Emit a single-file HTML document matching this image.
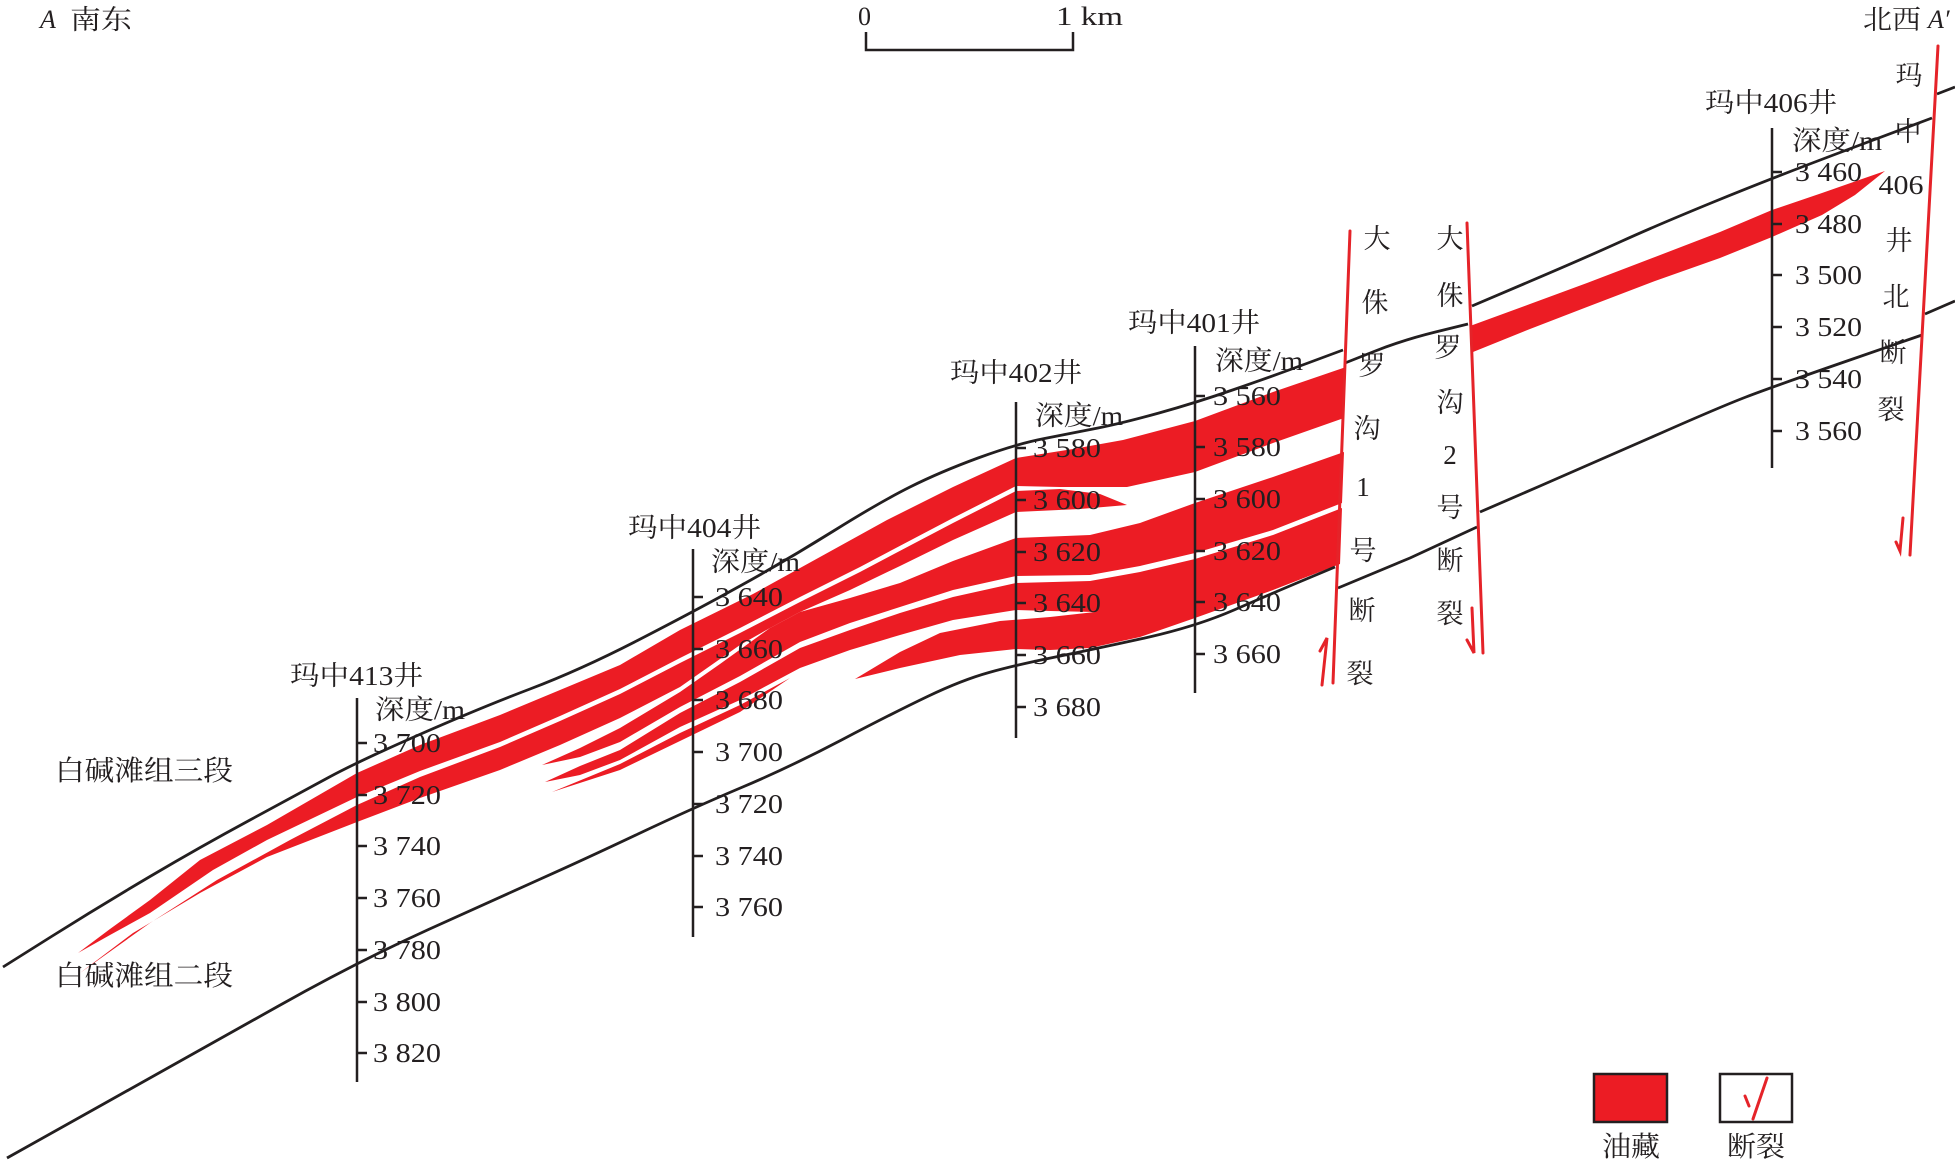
<!DOCTYPE html>
<html><head><meta charset="utf-8"><style>
html,body{margin:0;padding:0;background:#fff}
svg{display:block}
text{font-family:"Liberation Serif","Noto Serif CJK SC",serif;fill:#231f20}
.t{font-size:27px}
.n{font-size:27px}
.f{font-size:27px;text-anchor:middle}
.it{font-style:italic}
</style></head><body>
<svg width="1955" height="1163" viewBox="0 0 1955 1163" xmlns="http://www.w3.org/2000/svg">
<rect width="1955" height="1163" fill="#fff"/>
<g fill="#ec1c24" stroke="none">
<path d="M78,953 L110,929 L150,900 L200,860 L267,825 L357,773 L420,745 L500,715 L560,690 L620,665 L680,630 L753,594 L820,557 L887,520 L953,487 L1016,458 L1073,449 L1123,440 L1195,421 L1273,392 L1346,367 L1344,418 L1273,443 L1195,472 L1127,487 L1060,487 L1016,486 L953,518 L913,539 L860,567 L800,597 L740,628 L680,658 L620,689 L560,716 L500,742 L420,771 L357,797 L267,840 L213,870 L150,913 L110,935 Z"/>
<path d="M80,973 L150,923 L217,880 L290,840 L357,805 L420,777 L500,747 L560,721 L620,694 L680,663 L740,633 L800,602 L860,572 L913,544 L953,523 L1016,491 L1060,489 L1100,494 L1127,505 L1080,509 L1016,512 L953,540 L900,566 L850,590 L800,612 L770,628 L740,645 L680,687 L620,718 L560,745 L500,770 L420,798 L357,822 L267,857 L200,893 L133,933 Z"/>
<path d="M542,765 L580,748 L620,728 L680,692 L720,664 L770,628 L800,612 L850,598 L900,583 L953,561 L1016,538 L1090,535 L1140,523 L1195,503 L1273,477 L1344,452 L1342,503 L1273,530 L1195,553 L1140,566 L1090,575 L1016,576 L953,590 L900,607 L850,623 L800,642 L740,676 L680,707 L620,742 L580,757 Z"/>
<path d="M545,782 L580,766 L620,750 L680,713 L740,682 L800,648 L850,630 L900,613 L953,597 L1016,583 L1090,581 L1140,572 L1195,559 L1273,535 L1342,508 L1340,564 L1273,590 L1195,618 L1140,637 L1090,648 L1050,650 L1016,649 L960,655 L900,668 L855,679 L900,652 L940,633 L1000,621 L1050,617 L1095,612 L1050,611 L1016,610 L953,620 L900,635 L850,650 L800,668 L740,700 L680,727 L620,760 L580,775 Z"/>
<path d="M552,792 L620,764 L680,733 L740,705 L790,678 L740,712 L680,741 L620,770 Z"/>
<path d="M1470,326 L1530,304 L1587,283 L1655,257 L1720,232 L1772,210 L1822,193 L1862,179 L1885,171 L1855,195 L1822,215 L1772,237 L1720,258 L1655,281 L1587,307 L1530,329 L1473,352 Z"/>
</g>
<g fill="none" stroke="#231f20" stroke-width="2.8" stroke-linejoin="round" stroke-linecap="butt">
<path d="M3,967 L51.5,936.5 Q100,906 150,876.5 Q200,847 250,820 Q300,793 328.5,777.5 Q357,762 418.5,735 Q480,708 530,689 Q580,670 636.5,641 Q693,612 740,586 Q787,560 833.5,531 Q880,502 910,487 Q940,472 978,458 Q1016,444 1044.5,438.5 Q1073,433 1098,428 Q1123,423 1159,413 Q1195,403 1234,389.5 Q1273,376 1308,363 L1343,350"/>
<path d="M1345,363 L1374,351.5 Q1403,340 1435.5,332 L1468,324"/>
<path d="M1472,306 L1529.5,281.5 Q1587,257 1621,241.5 Q1655,226 1713.5,202 Q1772,178 1852,148 L1932,118"/>
<polyline points="1937,94 1955,87"/>
<path d="M7,1158 L103.5,1104 Q200,1050 278.5,1006 Q357,962 428.5,929.5 Q500,897 541.5,878.5 Q583,860 638,834 Q693,808 741.5,787.5 Q790,767 841.5,740 Q893,713 927.5,696.5 Q962,680 989,672.5 Q1016,665 1053,657.5 Q1090,650 1142.5,638.5 Q1195,627 1234,610 Q1273,593 1304,580 L1335,567"/>
<polyline points="1338,588 1410,558 1477,527"/>
<path d="M1480,512 L1540,486 Q1600,460 1660,433.5 Q1720,407 1746,397 Q1772,387 1847,361 L1922,335"/>
<polyline points="1925,314 1955,301"/>
</g>
<g stroke="#231f20" stroke-width="2.5" fill="none">
<line x1="357" y1="698" x2="357" y2="1082"/>
<line x1="693" y1="549" x2="693" y2="937"/>
<line x1="1016" y1="402" x2="1016" y2="738"/>
<line x1="1195" y1="346" x2="1195" y2="693"/>
<line x1="1772" y1="128" x2="1772" y2="468"/>
<path d="M357,743h10M357,795h10M357,846h10M357,898h10M357,950h10M357,1002h10M357,1053h10"/>
<path d="M693,597h10M693,649h10M693,700h10M693,752h10M693,804h10M693,856h10M693,907h10"/>
<path d="M1016,448h10M1016,500h10M1016,552h10M1016,603h10M1016,655h10M1016,707h10"/>
<path d="M1195,396h10M1195,447h10M1195,499h10M1195,551h10M1195,602h10M1195,654h10"/>
<path d="M1772,172h10M1772,224h10M1772,275h10M1772,327h10M1772,379h10M1772,431h10"/>
<path d="M866,32V50H1073V32"/>
</g>
<g stroke="#e52329" stroke-width="3" fill="none" stroke-linecap="round">
<line x1="1350" y1="231" x2="1333" y2="683"/>
<line x1="1467" y1="223" x2="1483" y2="653"/>
<line x1="1938" y1="46" x2="1910" y2="555"/>
<path d="M1322,685L1327,638L1320,651"/>
<path d="M1472,608L1474,653L1467,640"/>
<path d="M1903,518L1900,551L1896,542"/>
</g>
<!-- well 413 -->
<text class="n" x="290" y="685" textLength="133" lengthAdjust="spacingAndGlyphs">玛中413井</text>
<text class="t" x="375" y="719" textLength="90" lengthAdjust="spacingAndGlyphs">深度/m</text>
<g class="t">
<text x="373" y="752" textLength="68" lengthAdjust="spacingAndGlyphs">3 700</text>
<text x="373" y="804" textLength="68" lengthAdjust="spacingAndGlyphs">3 720</text>
<text x="373" y="855" textLength="68" lengthAdjust="spacingAndGlyphs">3 740</text>
<text x="373" y="907" textLength="68" lengthAdjust="spacingAndGlyphs">3 760</text>
<text x="373" y="959" textLength="68" lengthAdjust="spacingAndGlyphs">3 780</text>
<text x="373" y="1011" textLength="68" lengthAdjust="spacingAndGlyphs">3 800</text>
<text x="373" y="1062" textLength="68" lengthAdjust="spacingAndGlyphs">3 820</text>
</g>
<!-- well 404 -->
<text class="n" x="628" y="537" textLength="133" lengthAdjust="spacingAndGlyphs">玛中404井</text>
<text class="t" x="711" y="571" textLength="89" lengthAdjust="spacingAndGlyphs">深度/m</text>
<g class="t">
<text x="715" y="606" textLength="68" lengthAdjust="spacingAndGlyphs">3 640</text>
<text x="715" y="658" textLength="68" lengthAdjust="spacingAndGlyphs">3 660</text>
<text x="715" y="709" textLength="68" lengthAdjust="spacingAndGlyphs">3 680</text>
<text x="715" y="761" textLength="68" lengthAdjust="spacingAndGlyphs">3 700</text>
<text x="715" y="813" textLength="68" lengthAdjust="spacingAndGlyphs">3 720</text>
<text x="715" y="865" textLength="68" lengthAdjust="spacingAndGlyphs">3 740</text>
<text x="715" y="916" textLength="68" lengthAdjust="spacingAndGlyphs">3 760</text>
</g>
<!-- well 402 -->
<text class="n" x="950" y="382" textLength="132" lengthAdjust="spacingAndGlyphs">玛中402井</text>
<text class="t" x="1035" y="425" textLength="88" lengthAdjust="spacingAndGlyphs">深度/m</text>
<g class="t">
<text x="1033" y="457" textLength="68" lengthAdjust="spacingAndGlyphs">3 580</text>
<text x="1033" y="509" textLength="68" lengthAdjust="spacingAndGlyphs">3 600</text>
<text x="1033" y="561" textLength="68" lengthAdjust="spacingAndGlyphs">3 620</text>
<text x="1033" y="612" textLength="68" lengthAdjust="spacingAndGlyphs">3 640</text>
<text x="1033" y="664" textLength="68" lengthAdjust="spacingAndGlyphs">3 660</text>
<text x="1033" y="716" textLength="68" lengthAdjust="spacingAndGlyphs">3 680</text>
</g>
<!-- well 401 -->
<text class="n" x="1128" y="332" textLength="132" lengthAdjust="spacingAndGlyphs">玛中401井</text>
<text class="t" x="1215" y="370" textLength="88" lengthAdjust="spacingAndGlyphs">深度/m</text>
<g class="t">
<text x="1213" y="405" textLength="68" lengthAdjust="spacingAndGlyphs">3 560</text>
<text x="1213" y="456" textLength="68" lengthAdjust="spacingAndGlyphs">3 580</text>
<text x="1213" y="508" textLength="68" lengthAdjust="spacingAndGlyphs">3 600</text>
<text x="1213" y="560" textLength="68" lengthAdjust="spacingAndGlyphs">3 620</text>
<text x="1213" y="611" textLength="68" lengthAdjust="spacingAndGlyphs">3 640</text>
<text x="1213" y="663" textLength="68" lengthAdjust="spacingAndGlyphs">3 660</text>
</g>
<!-- well 406 -->
<text class="n" x="1705" y="112" textLength="132" lengthAdjust="spacingAndGlyphs">玛中406井</text>
<text class="t" x="1792" y="150" textLength="90" lengthAdjust="spacingAndGlyphs">深度/m</text>
<g class="t">
<text x="1795" y="181" textLength="67" lengthAdjust="spacingAndGlyphs">3 460</text>
<text x="1795" y="233" textLength="67" lengthAdjust="spacingAndGlyphs">3 480</text>
<text x="1795" y="284" textLength="67" lengthAdjust="spacingAndGlyphs">3 500</text>
<text x="1795" y="336" textLength="67" lengthAdjust="spacingAndGlyphs">3 520</text>
<text x="1795" y="388" textLength="67" lengthAdjust="spacingAndGlyphs">3 540</text>
<text x="1795" y="440" textLength="67" lengthAdjust="spacingAndGlyphs">3 560</text>
</g>
<!-- fault labels -->
<g class="f">
<text x="1377" y="248">大</text>
<text x="1375" y="312">侏</text>
<text x="1372" y="375">罗</text>
<text x="1367" y="438">沟</text>
<text x="1363" y="496">1</text>
<text x="1363" y="560">号</text>
<text x="1362" y="620">断</text>
<text x="1360" y="683">裂</text>
<text x="1450" y="248">大</text>
<text x="1450" y="305">侏</text>
<text x="1448" y="357">罗</text>
<text x="1450" y="412">沟</text>
<text x="1450" y="464">2</text>
<text x="1450" y="517">号</text>
<text x="1450" y="570">断</text>
<text x="1450" y="623">裂</text>
<text x="1909" y="85">玛</text>
<text x="1908" y="141">中</text>
<text x="1901" y="194" textLength="45" lengthAdjust="spacingAndGlyphs">406</text>
<text x="1899" y="250">井</text>
<text x="1896" y="306">北</text>
<text x="1893" y="362">断</text>
<text x="1891" y="419">裂</text>
</g>
<!-- formation labels -->
<text x="55" y="780" style="font-size:28px" textLength="178" lengthAdjust="spacingAndGlyphs">白碱滩组三段</text>
<text x="55" y="985" style="font-size:28px" textLength="178" lengthAdjust="spacingAndGlyphs">白碱滩组二段</text>
<!-- header labels -->
<text x="40" y="28" class="it" style="font-size:26px">A</text>
<text x="70" y="29" style="font-size:27px" textLength="62" lengthAdjust="spacingAndGlyphs">南东</text>
<text x="1863" y="29" style="font-size:27px" textLength="58" lengthAdjust="spacingAndGlyphs">北西</text>
<text x="1928" y="28" class="it" style="font-size:26px">A′</text>
<text x="858" y="25" style="font-size:26px">0</text>
<text x="1056" y="25" style="font-size:26px" textLength="67" lengthAdjust="spacingAndGlyphs">1 km</text>
<!-- legend -->
<rect x="1594" y="1074" width="73" height="48" fill="#ec1c24" stroke="#231f20" stroke-width="2.5"/>
<rect x="1720" y="1074" width="72" height="48" fill="#fff" stroke="#231f20" stroke-width="2.5"/>
<g stroke="#e52329" stroke-width="3" stroke-linecap="round" fill="none">
<line x1="1767" y1="1078" x2="1753" y2="1119"/>
<line x1="1745" y1="1096" x2="1749" y2="1106"/>
</g>
<text x="1602" y="1156" style="font-size:28px" textLength="58" lengthAdjust="spacingAndGlyphs">油藏</text>
<text x="1727" y="1156" style="font-size:28px" textLength="58" lengthAdjust="spacingAndGlyphs">断裂</text>
</svg>
</body></html>
